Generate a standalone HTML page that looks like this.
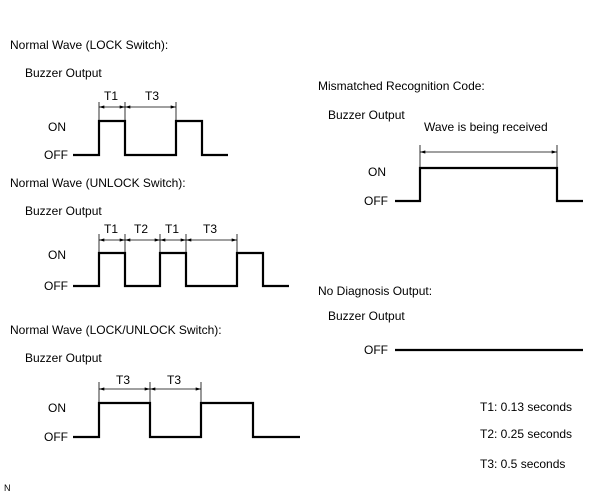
<!DOCTYPE html>
<html><head><meta charset="utf-8"><style>
html,body{margin:0;padding:0;background:#fff}
svg{display:block}
text{font-family:"Liberation Sans",Arial,sans-serif;font-size:12px;fill:#000}
.w{fill:none;stroke:#000;stroke-width:2.2}
.d{stroke:#000;stroke-width:0.8;fill:none}
</style></head><body>
<svg width="604" height="492" viewBox="0 0 604 492">
<defs>
<marker id="a" viewBox="0 0 10 6" refX="10" refY="3" markerWidth="8" markerHeight="4" orient="auto-start-reverse"><path d="M0,0L10,3L0,6z" fill="#000"/></marker>
</defs>
<text x="10" y="49">Normal Wave (LOCK Switch):</text>
<text x="25" y="77">Buzzer Output</text>
<text x="48" y="131">ON</text>
<text x="44" y="159">OFF</text>
<path class="w" d="M73,155H99V121H125V155H176V121H202V155H228"/>
<path class="d" d="M99,102V121M125,102V121M176,102V121"/>
<line class="d" x1="99" y1="107" x2="125" y2="107" marker-start="url(#a)" marker-end="url(#a)"/>
<line class="d" x1="125" y1="107" x2="176" y2="107" marker-start="url(#a)" marker-end="url(#a)"/>
<text x="104" y="100">T1</text><text x="145" y="100">T3</text>

<text x="10" y="187">Normal Wave (UNLOCK Switch):</text>
<text x="25" y="215">Buzzer Output</text>
<text x="48" y="259">ON</text>
<text x="44" y="290">OFF</text>
<path class="w" d="M73,286H99V253H125V286H160V253H186V286H237V253H263V286H289"/>
<path class="d" d="M99,234V253M125,234V253M160,234V253M186,234V253M237,234V253"/>
<line class="d" x1="99" y1="240" x2="125" y2="240" marker-start="url(#a)" marker-end="url(#a)"/>
<line class="d" x1="125" y1="240" x2="160" y2="240" marker-start="url(#a)" marker-end="url(#a)"/>
<line class="d" x1="160" y1="240" x2="186" y2="240" marker-start="url(#a)" marker-end="url(#a)"/>
<line class="d" x1="186" y1="240" x2="237" y2="240" marker-start="url(#a)" marker-end="url(#a)"/>
<text x="104" y="233">T1</text><text x="134" y="233">T2</text><text x="165" y="233">T1</text><text x="203" y="233">T3</text>

<text x="10" y="334">Normal Wave (LOCK/UNLOCK Switch):</text>
<text x="25" y="362">Buzzer Output</text>
<text x="48" y="412">ON</text>
<text x="44" y="441">OFF</text>
<path class="w" d="M73,437H99V403H150V437H201V403H253V437H300"/>
<path class="d" d="M99,382V403M150,382V403M201,382V403"/>
<line class="d" x1="99" y1="389" x2="150" y2="389" marker-start="url(#a)" marker-end="url(#a)"/>
<line class="d" x1="150" y1="389" x2="201" y2="389" marker-start="url(#a)" marker-end="url(#a)"/>
<text x="116" y="384">T3</text><text x="167" y="384">T3</text>

<text x="318" y="90">Mismatched Recognition Code:</text>
<text x="328" y="119">Buzzer Output</text>
<text x="424" y="131">Wave is being received</text>
<text x="368" y="176">ON</text>
<text x="364" y="205">OFF</text>
<path class="w" d="M395,201H420V168H557V201H583"/>
<path class="d" d="M420,145V168M557,145V168"/>
<line class="d" x1="420" y1="152" x2="557" y2="152" marker-start="url(#a)" marker-end="url(#a)"/>

<text x="318" y="295">No Diagnosis Output:</text>
<text x="328" y="320">Buzzer Output</text>
<text x="364" y="354">OFF</text>
<path class="w" d="M395,350H583"/>

<text x="480" y="411">T1: 0.13 seconds</text>
<text x="480" y="438">T2: 0.25 seconds</text>
<text x="480" y="468">T3: 0.5 seconds</text>
<text x="4" y="491" style="font-size:9px">N</text>
</svg>
</body></html>
